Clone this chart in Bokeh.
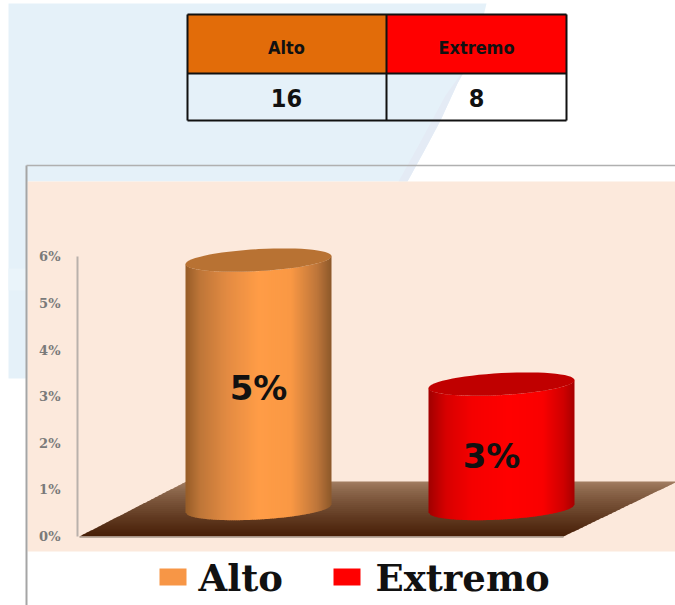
import math
from bokeh.plotting import figure
from bokeh.models import Range1d, LinearAxis, FixedTicker, PrintfTickFormatter
from bokeh.core.properties import value
from bokeh.embed import file_html
from bokeh.resources import INLINE

# ---- data ----
categories = ["Alto", "Extremo"]
counts = [16, 8]
percents = [5.33, 2.67]
percent_labels = ["5%", "3%"]
y_ticks = [0, 1, 2, 3, 4, 5, 6]

# ---- layout and style ----
W, H = 675, 605
PX_PER_PCT = 46.6
Y0_PX = 536.0


def yv(py):
    """page pixel row -> percent value on the chart's scale"""
    return (Y0_PX - py) / PX_PER_PCT


p = figure(width=W, height=H, output_backend="svg", toolbar_location=None,
           x_range=Range1d(0, 675), y_range=Range1d(yv(605), yv(0)),
           min_border=0, outline_line_color=None, background_fill_color="white",
           border_fill_color="white")
p.xgrid.visible = False
p.ygrid.visible = False
p.xaxis.visible = False
p.yaxis.visible = False


def poly(xs, ys, color, alpha=1.0):
    p.patch(xs, [yv(v) for v in ys], fill_color=color, fill_alpha=alpha, line_color=None)


def mix(a, b, t):
    return tuple(a[i] + (b[i] - a[i]) * t for i in range(3))


def to_hex(c):
    return "#%02x%02x%02x" % tuple(int(round(v)) for v in c)


# ---- page background ----
edge_x = [486, 476, 457, 440, 424, 407]
edge_y = [3, 45, 83, 120, 150, 181]
poly([8] + edge_x + [27, 27, 8], [3] + edge_y + [181, 378, 378], "#e5f1f9")
# faint darker swoosh along the curved edge
poly([470, 457, 440, 424, 407, 398, 418, 445],
     [60, 83, 120, 150, 181, 181, 145, 95], "#e4ebf5")
poly([8, 27, 27, 8], [268, 268, 290, 290], "#eaf4fa")

# ---- chart area ----
poly([27, 675, 675, 27], [181, 181, 551, 551], "#fce9dc")
p.line([26, 26], [yv(605), yv(165)], line_color="#a5a5a5", line_width=2)
p.line([26, 675], [yv(165), yv(165)], line_color="#b0b0b0", line_width=1.5)

# ---- 3D floor ----
floor_top, floor_bottom = 481.0, 536.0
top_col, bot_col = (160, 124, 96), (72, 32, 8)
steps = 28
for i in range(steps):
    y1 = floor_top + (floor_bottom - floor_top) * i / steps
    y2 = floor_top + (floor_bottom - floor_top) * (i + 1.4) / steps
    y2 = min(y2, floor_bottom)
    t = (i / (steps - 1)) ** 0.8
    xl = lambda y: 186 - (y - floor_top) * (186 - 79) / (floor_bottom - floor_top)
    xr = lambda y: 677 - (y - floor_top) * (677 - 563) / (floor_bottom - floor_top)
    poly([xl(y1), xr(y1), xr(y2), xl(y2)], [y1, y1, y2, y2], to_hex(mix(top_col, bot_col, t)))
p.line([79, 563], [yv(536.5), yv(536.5)], line_color="#a8988c", line_width=1.5)

# ---- axis ----
axis = LinearAxis(fixed_location=77, ticker=FixedTicker(ticks=y_ticks),
                  formatter=PrintfTickFormatter(format="%d%%"),
                  bounds=(min(y_ticks), max(y_ticks)))
axis.axis_line_color = "#b9b1ab"
axis.axis_line_width = 2
axis.major_tick_line_color = None
axis.minor_tick_line_color = None
axis.major_tick_in = 0
axis.major_tick_out = 0
axis.major_label_standoff = 17
axis.major_label_text_font = "DejaVu Serif"
axis.major_label_text_font_style = "bold"
axis.major_label_text_font_size = "13px"
axis.major_label_text_color = "#7a7a7a"
p.add_layout(axis, "left")

# ---- cylinders ----
centres = [258, 501]
RX = 73
RY = 11
TILT = 4
BASE = yv(508)
ramps = [
    [(0.0, (150, 92, 40)), (0.10, (190, 118, 56)), (0.28, (226, 138, 66)),
     (0.50, (255, 156, 70)), (0.72, (250, 152, 68)), (0.90, (190, 118, 58)), (1.0, (140, 88, 42))],
    [(0.0, (160, 0, 0)), (0.12, (215, 0, 0)), (0.30, (245, 0, 0)),
     (0.55, (255, 0, 0)), (0.78, (250, 0, 0)), (0.93, (205, 0, 0)), (1.0, (165, 0, 0))],
]
lid_cols = ["#b87233", "#c00000"]


def ramp_col(ramp, t):
    for (t0, c0), (t1, c1) in zip(ramp, ramp[1:]):
        if t <= t1:
            return mix(c0, c1, (t - t0) / (t1 - t0))
    return ramp[-1][1]


for cx, val, ramp, lid in zip(centres, percents, ramps, lid_cols):
    base_px = Y0_PX - BASE * PX_PER_PCT
    top_px = base_px - val * PX_PER_PCT

    def lower(x, cy):
        u = max(-1.0, min(1.0, (x - cx) / RX))
        return cy - TILT * u + RY * math.sqrt(1 - u * u)

    x = cx - RX
    while x < cx + RX:
        x2 = min(x + 2.6, cx + RX)
        xm = x + 2.0 if x + 2.0 < cx + RX else cx + RX
        poly([x, x2, x2, x],
             [lower(x, top_px), lower(x2, top_px), lower(x2, base_px), lower(x, base_px)],
             to_hex(ramp_col(ramp, (x + 1 - (cx - RX)) / (2 * RX))))
        x = xm
    # lid
    n = 60
    lx = [cx + RX * math.cos(2 * math.pi * i / n) for i in range(n)]
    ly = [top_px - TILT * math.cos(2 * math.pi * i / n) - RY * math.sin(2 * math.pi * i / n) for i in range(n)]
    poly(lx, ly, lid)

# value labels
label_x = [258, 491]
label_y = [3.19, 1.72]
p.text(label_x, label_y, text=percent_labels, text_align="center", text_baseline="middle",
       text_font=value("DejaVu Sans"), text_font_style="bold", text_font_size="34px", text_color="#111111")

# ---- table ----
col_edges = [187, 386, 566]
row_y = [14, 73, 120]
head_cols = ["#e26c09", "#ff0000"]
head_centres = [286, 476]
for i in range(2):
    poly([col_edges[i], col_edges[i + 1], col_edges[i + 1], col_edges[i]],
         [row_y[0], row_y[0], row_y[1], row_y[1]], head_cols[i])
for xx in col_edges:
    p.line([xx, xx], [yv(row_y[0]), yv(row_y[2])], line_color="#111111", line_width=2)
for yy in row_y:
    p.line([col_edges[0], col_edges[2]], [yv(yy), yv(yy)], line_color="#111111", line_width=2)
p.text(head_centres, [yv(47)] * 2, text=categories, text_align="center", text_baseline="middle",
       text_font=value("DejaVu Sans Condensed"), text_font_style="bold", text_font_size="18px", text_color="#111111")
p.text(head_centres, [yv(97)] * 2, text=[str(c) for c in counts], text_align="center", text_baseline="middle",
       text_font=value("DejaVu Sans Condensed"), text_font_style="bold", text_font_size="25px", text_color="#111111")

# ---- legend ----
swatch_x = [159, 333]
swatch_w = 27
swatch_cols = ["#f79646", "#ff0000"]
legend_text_x = [198, 375]
for sx, col in zip(swatch_x, swatch_cols):
    poly([sx, sx + swatch_w, sx + swatch_w, sx], [568, 568, 585, 585], col)
p.text(legend_text_x, [yv(577)] * 2, text=categories, text_align="left", text_baseline="middle",
       text_font=value("DejaVu Serif"), text_font_style="bold", text_font_size="37px", text_color="#111111")

open("out.html", "w").write(file_html(p, INLINE))
